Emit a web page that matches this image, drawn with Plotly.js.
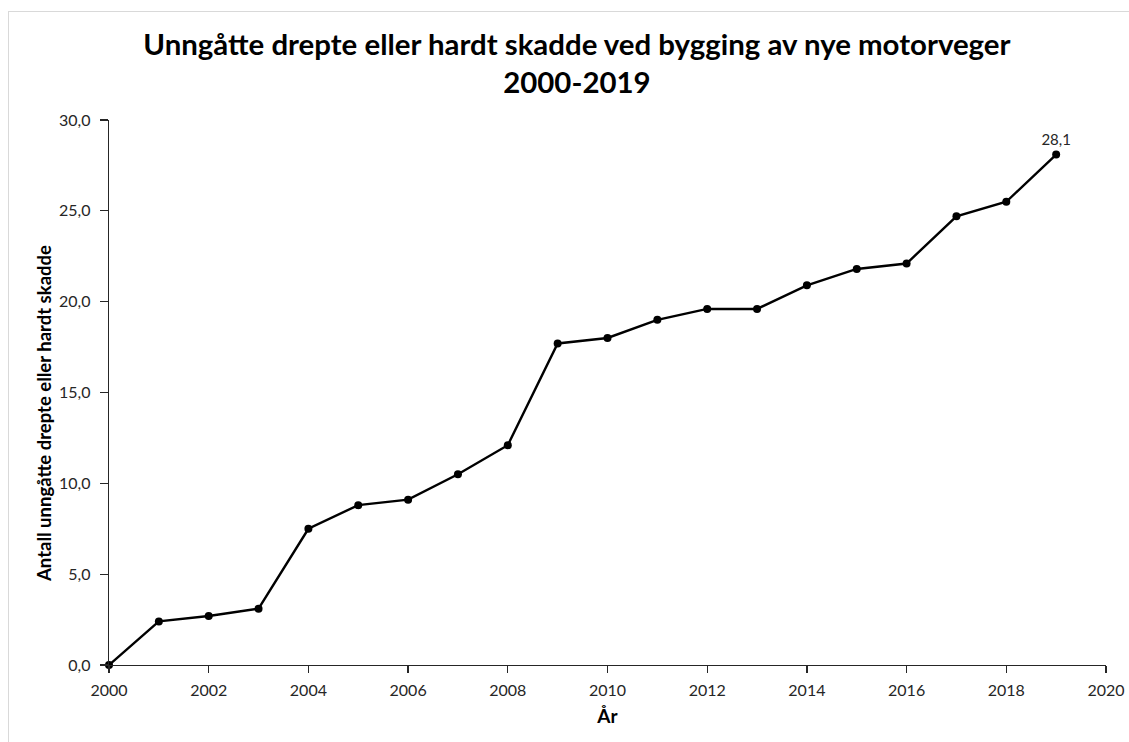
<!DOCTYPE html>
<html>
<head>
<meta charset="utf-8">
<script src="https://cdn.plot.ly/plotly-3.0.1.min.js"></script>
<style>
  html, body { margin: 0; padding: 0; background: #ffffff; }
  #frame { position: absolute; left: 8px; top: 11px; width: 1200px; height: 800px; border: 1px solid #d9d9d9; box-sizing: border-box; }
  #chart { position: absolute; left: 0; top: 0; width: 1129px; height: 742px; }
</style>
</head>
<body>
<div id="frame"></div>
<div id="chart"></div>
<script>
const years = [2000, 2001, 2002, 2003, 2004, 2005, 2006, 2007, 2008, 2009,
               2010, 2011, 2012, 2013, 2014, 2015, 2016, 2017, 2018, 2019];
const values = [0.0, 2.4, 2.7, 3.1, 7.5, 8.8, 9.1, 10.5, 12.1, 17.7,
                18.0, 19.0, 19.6, 19.6, 20.9, 21.8, 22.1, 24.7, 25.5, 28.1];
const xTickVals = [2000, 2002, 2004, 2006, 2008, 2010, 2012, 2014, 2016, 2018, 2020];
const yTickVals = [0, 5, 10, 15, 20, 25, 30];
const titleText = 'Unngåtte drepte eller hardt skadde ved bygging av nye motorveger<br>2000-2019';
const xTitle = 'År';
const yTitle = 'Antall unngåtte drepte eller hardt skadde';

const labels = values.map((v, i) => i === values.length - 1 ? v.toFixed(1).replace('.', ',') : '');

const FONT = 'Lato, "Open Sans", sans-serif';

const trace = {
  x: years,
  y: values,
  type: 'scatter',
  mode: 'lines+markers+text',
  text: labels,
  textposition: 'top center',
  textfont: { family: FONT, size: 15, color: '#262626' },
  line: { color: '#000000', width: 2.4 },
  marker: { color: '#000000', size: 8 },
  hoverinfo: 'x+y',
  cliponaxis: false
};

const layout = {
  width: 1129,
  height: 742,
  paper_bgcolor: 'rgba(0,0,0,0)',
  plot_bgcolor: 'rgba(0,0,0,0)',
  margin: { l: 109, r: 23, t: 120, b: 77 },
  separators: ', ',
  showlegend: false,
  font: { family: FONT, color: '#262626' },
  title: {
    text: titleText,
    font: { family: FONT, size: 29.4, color: '#000000', weight: 'bold' },
    x: 0.511,
    xanchor: 'center',
    y: 0.926,
    yanchor: 'top'
  },
  xaxis: {
    range: [2000, 2020],
    tickvals: xTickVals,
    ticktext: xTickVals.map(String),
    showgrid: false,
    zeroline: false,
    showline: true,
    linecolor: '#262626',
    linewidth: 1.3,
    ticks: 'outside',
    ticklen: 7,
    tickwidth: 1.3,
    tickcolor: '#262626',
    ticklabelstandoff: 3,
    tickfont: { family: FONT, size: 16, color: '#262626' },
    title: { text: xTitle, font: { family: FONT, size: 19, color: '#000000', weight: 'bold' }, standoff: 12 }
  },
  yaxis: {
    range: [0, 30],
    tickvals: yTickVals,
    ticktext: yTickVals.map(v => v.toFixed(1).replace('.', ',')),
    showgrid: false,
    zeroline: false,
    showline: true,
    linecolor: '#262626',
    linewidth: 1.3,
    ticks: 'outside',
    ticklen: 8,
    tickwidth: 1.3,
    tickcolor: '#262626',
    ticklabelstandoff: 6,
    tickfont: { family: FONT, size: 16, color: '#262626' }
  },
  annotations: [{
    text: '<b>' + yTitle + '</b>',
    xref: 'paper', yref: 'paper',
    x: 0, y: (665 - 414) / 545,
    xshift: -65,
    xanchor: 'center', yanchor: 'middle',
    textangle: -90,
    showarrow: false,
    font: { family: FONT, size: 18.5, color: '#000000' }
  }]
};

Plotly.newPlot('chart', [trace], layout, { displayModeBar: false, staticPlot: true });
</script>
</body>
</html>
